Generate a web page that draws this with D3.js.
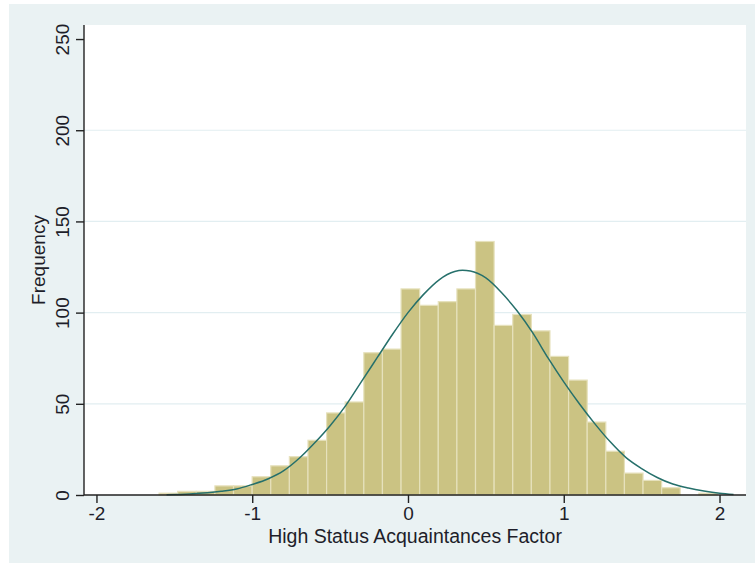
<!DOCTYPE html>
<html>
<head>
<meta charset="utf-8">
<script src="https://cdn.jsdelivr.net/npm/d3@7"></script>
<style>
  body { margin: 0; background: #fff; }
  text { font-family: "Liberation Sans", Arial, sans-serif; fill: #1e1e2a; }
</style>
</head>
<body>
<svg id="chart" width="755" height="567"></svg>
<script>
// histogram bins
const binStart = -1.598;
const binWidth = 0.1195;
const counts = [1, 2, 2, 5, 5, 10, 16, 21, 30, 45, 51, 78, 80, 113, 104, 106, 113, 139,
                93, 99, 90, 76, 63, 40, 24, 12, 8, 4, 0, 1];

// overlaid normal curve
const curveX = [-1.55, -1.4, -1.2, -1.1, -1.0, -0.9, -0.8, -0.7, -0.6, -0.5, -0.4, -0.3, -0.2, -0.1,
                0.0, 0.1, 0.2, 0.3, 0.35, 0.4, 0.5, 0.6, 0.7, 0.8, 0.9, 1.0, 1.1, 1.2, 1.3, 1.4,
                1.5, 1.6, 1.7, 1.8, 1.9, 2.0, 2.09];
const curveY = [0.2, 0.6, 2.0, 3.3, 5.8, 8.8, 13.2, 20, 28.5, 38, 49, 62, 75, 88,
                100, 110, 118, 122.5, 123.2, 122.8, 119, 111, 101, 89, 75, 62, 50, 39, 29, 20.5,
                14.5, 9.6, 6.0, 3.8, 2.2, 1.0, 0.3];

const xTicks = [-2, -1, 0, 1, 2];
const yTicks = [0, 50, 100, 150, 200, 250];
const xTitle = "High Status Acquaintances Factor";
const yTitle = "Frequency";

const svg = d3.select("#chart");

// outer panel
svg.append("rect")
  .attr("x", 9).attr("y", 4)
  .attr("width", 746).attr("height", 559)
  .attr("fill", "#eaf2f3");

const pLeft = 84, pRight = 746, pTop = 25, pBottom = 495;

svg.append("rect")
  .attr("x", pLeft).attr("y", pTop)
  .attr("width", pRight - pLeft).attr("height", pBottom - pTop)
  .attr("fill", "#fff");

const x = d3.scaleLinear().domain([-2.08, 2.17]).range([pLeft, pRight]);
const y = d3.scaleLinear().domain([0, 257.7]).range([pBottom, pTop]);

// gridlines
svg.append("g")
  .selectAll("line")
  .data(yTicks.filter(d => d > 0 && d < 250))
  .join("line")
  .attr("x1", pLeft).attr("x2", pRight)
  .attr("y1", d => y(d)).attr("y2", d => y(d))
  .attr("stroke", "#e2eef1")
  .attr("stroke-width", 1.2);

// bars
svg.append("g")
  .selectAll("rect")
  .data(counts)
  .join("rect")
  .attr("x", (d, i) => x(binStart + i * binWidth))
  .attr("width", x(binWidth) - x(0))
  .attr("y", d => y(d))
  .attr("height", d => y(0) - y(d))
  .attr("fill", "#cbc383")
  .attr("stroke", "#e6e1bc")
  .attr("stroke-width", 1.2);

// normal curve
const pts = curveX.map((v, i) => [v, curveY[i]]);
const line = d3.line()
  .x(d => x(d[0]))
  .y(d => y(d[1]))
  .curve(d3.curveMonotoneX);

svg.append("path")
  .datum(pts)
  .attr("d", line)
  .attr("fill", "none")
  .attr("stroke", "#26706b")
  .attr("stroke-width", 1.5);

// axes (plain hyphen for negatives, like the original)
const fmt = d => String(d);

const xAxis = svg.append("g")
  .attr("transform", "translate(0," + pBottom + ")")
  .call(d3.axisBottom(x).tickValues(xTicks).tickSize(8).tickPadding(6).tickFormat(fmt));
xAxis.select(".domain").attr("d", "M" + pLeft + ",0H" + pRight);

const yAxis = svg.append("g")
  .attr("transform", "translate(" + pLeft + ",0)")
  .call(d3.axisLeft(y).tickValues(yTicks).tickSize(8).tickFormat(fmt));
yAxis.select(".domain").attr("d", "M0," + pTop + "V" + pBottom);

svg.selectAll(".domain").attr("stroke", "#222").attr("stroke-width", 1.4);
svg.selectAll(".tick line").attr("stroke", "#222").attr("stroke-width", 1.4);
svg.selectAll(".tick text").attr("font-size", 19).attr("fill", "#1e1e2a")
  .attr("font-family", "Liberation Sans, Arial, sans-serif");

xAxis.selectAll(".tick text").attr("y", 12).attr("dy", "0.71em");

yAxis.selectAll(".tick text")
  .attr("x", null).attr("dy", null)
  .attr("transform", "translate(-15,0) rotate(-90)")
  .attr("text-anchor", "middle");

// titles
svg.append("text")
  .attr("x", (pLeft + pRight) / 2)
  .attr("y", 543)
  .attr("text-anchor", "middle")
  .attr("font-size", 19.5)
  .text(xTitle);

svg.append("text")
  .attr("transform", "translate(45," + (pTop + pBottom) / 2 + ") rotate(-90)")
  .attr("text-anchor", "middle")
  .attr("font-size", 19)
  .text(yTitle);
</script>
</body>
</html>
